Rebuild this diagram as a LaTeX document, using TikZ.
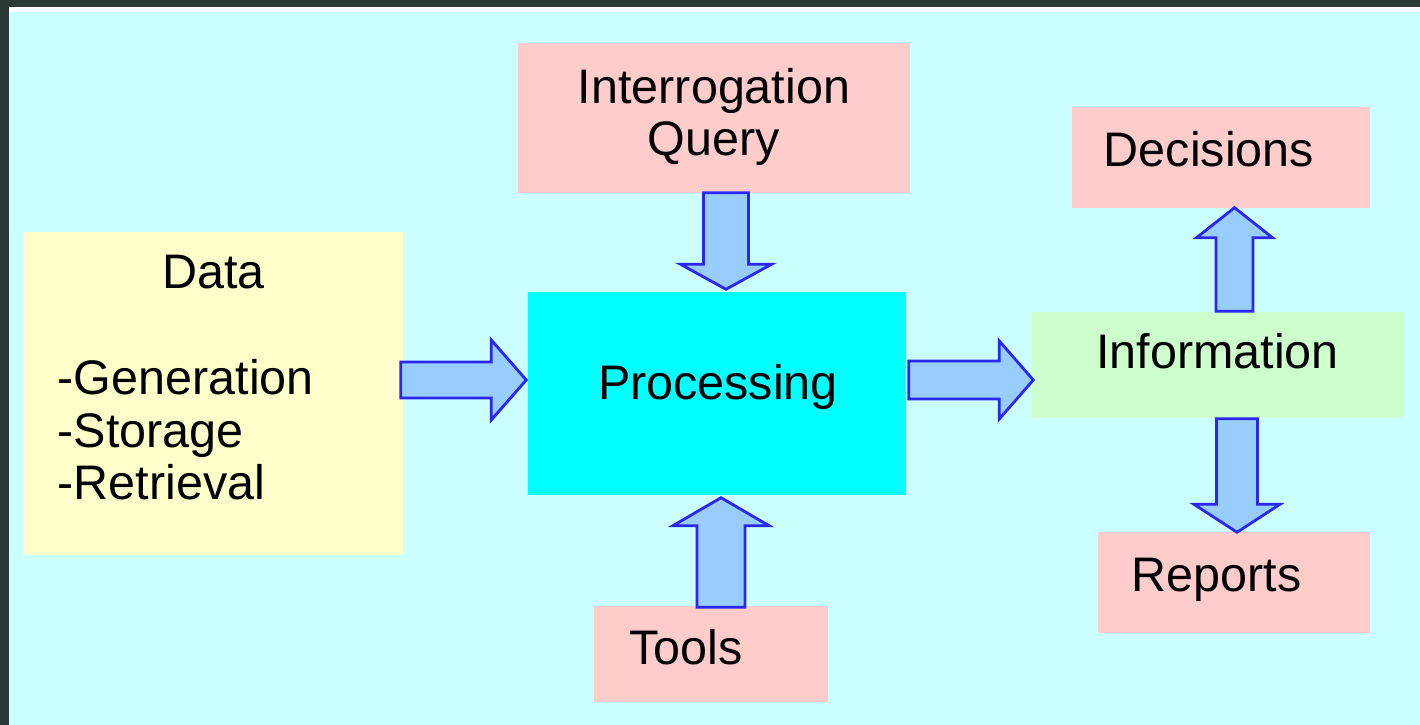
\documentclass[tikz,border=0pt]{standalone}
\usepackage{fontspec}
\setmainfont{Liberation Sans}
\usetikzlibrary{calc}

\definecolor{framegray}{HTML}{2B3A35}
\definecolor{sheetcyan}{HTML}{CCFFFF}
\definecolor{datayellow}{HTML}{FFFFCC}
\definecolor{boxpink}{HTML}{FFCCCC}
\definecolor{proccyan}{HTML}{00FFFF}
\definecolor{infogreen}{HTML}{CCFFCC}
\definecolor{arrowfill}{HTML}{99CCFF}
\definecolor{arrowline}{HTML}{2828F0}

\begin{document}
\begin{tikzpicture}[
	box/.style={shape=rectangle,inner sep=0pt},
	txt/.style={inner sep=0pt,font=\fontsize{13.8pt}{14.9pt}\selectfont},
	barrow/.style n args={3}{draw=arrowline,fill=arrowfill,line width=0.8pt,line join=miter,
		to path={($(\tikztostart)!#1!90:(\tikztotarget)$)
			-- ($($(\tikztotarget)!#3!(\tikztostart)$)!#1!90:(\tikztotarget)$)
			-- ($($(\tikztotarget)!#3!(\tikztostart)$)!#2!90:(\tikztotarget)$)
			-- (\tikztotarget)
			-- ($($(\tikztotarget)!#3!(\tikztostart)$)!#2!-90:(\tikztotarget)$)
			-- ($($(\tikztotarget)!#3!(\tikztostart)$)!#1!-90:(\tikztotarget)$)
			-- ($(\tikztostart)!#1!-90:(\tikztotarget)$) -- cycle}}
	]
	\useasboundingbox (0,0) rectangle (14.2,7.25);
	\fill[framegray] (0,0) rectangle (14.2,7.25);
	\fill[white] (0.09,0) rectangle (14.2,7.18);
	\fill[sheetcyan] (0.09,0) rectangle (14.2,7.13);

	\node[box,fill=datayellow,minimum width=3.80cm,minimum height=3.23cm] (data) at (2.13,3.315) {};
	\node[box,fill=boxpink,minimum width=3.92cm,minimum height=1.50cm] (query) at (7.14,6.07) {};
	\node[box,fill=proccyan,minimum width=3.78cm,minimum height=2.03cm] (proc) at (7.17,3.315) {};
	\node[box,fill=boxpink,minimum width=2.34cm,minimum height=0.96cm] (tools) at (7.11,0.71) {};
	\node[box,fill=boxpink,minimum width=2.98cm,minimum height=1.01cm] (decis) at (12.21,5.675) {};
	\node[box,fill=infogreen,minimum width=3.71cm,minimum height=1.06cm] (info) at (12.175,3.60) {};
	\node[box,fill=boxpink,minimum width=2.72cm,minimum height=1.01cm] (reports) at (12.34,1.425) {};

	\node[txt,anchor=base] (datatitle) at (2.135,4.36) {Data};
	\node[txt,anchor=north west,align=left] (datalist) at (0.57,3.66) {-Generation\\-Storage\\-Retrieval};
	\node[txt,align=center] (querytext) at (7.14,6.08) {Interrogation\\Query};
	\node[txt,anchor=base] (proctext) at (7.18,3.25) {Processing};
	\node[txt,anchor=base] (toolstext) at (6.86,0.60) {Tools};
	\node[txt,anchor=base] (decistext) at (12.09,5.58) {Decisions};
	\node[txt,anchor=base] (infotext) at (12.175,3.56) {Information};
	\node[txt,anchor=base] (reportstext) at (12.165,1.33) {Reports};

	\draw[barrow={0.18cm}{0.40cm}{0.35cm}] ([xshift=-0.03cm,yshift=0.135cm]data.east) to ([xshift=-0.01cm,yshift=0.135cm]proc.west);
	\draw[barrow={0.19cm}{0.39cm}{0.34cm}] ([xshift=0.02cm,yshift=0.135cm]proc.east) to ([xshift=0.02cm,yshift=-0.15cm]info.west);
	\draw[barrow={0.225cm}{0.455cm}{0.25cm}] ([xshift=0.12cm,yshift=0.01cm]query.south) to ([xshift=0.09cm,yshift=0.02cm]proc.north);
	\draw[barrow={0.24cm}{0.48cm}{0.28cm}] ([xshift=0.10cm,yshift=-0.02cm]tools.north) to ([xshift=0.04cm,yshift=-0.02cm]proc.south);
	\draw[barrow={0.185cm}{0.38cm}{0.30cm}] ([xshift=0.17cm]info.north) to ([xshift=0.135cm,yshift=0.01cm]decis.south);
	\draw[barrow={0.205cm}{0.43cm}{0.28cm}] ([xshift=0.195cm]info.south) to ([xshift=0.03cm,yshift=-0.01cm]reports.north);
\end{tikzpicture}
\end{document}
